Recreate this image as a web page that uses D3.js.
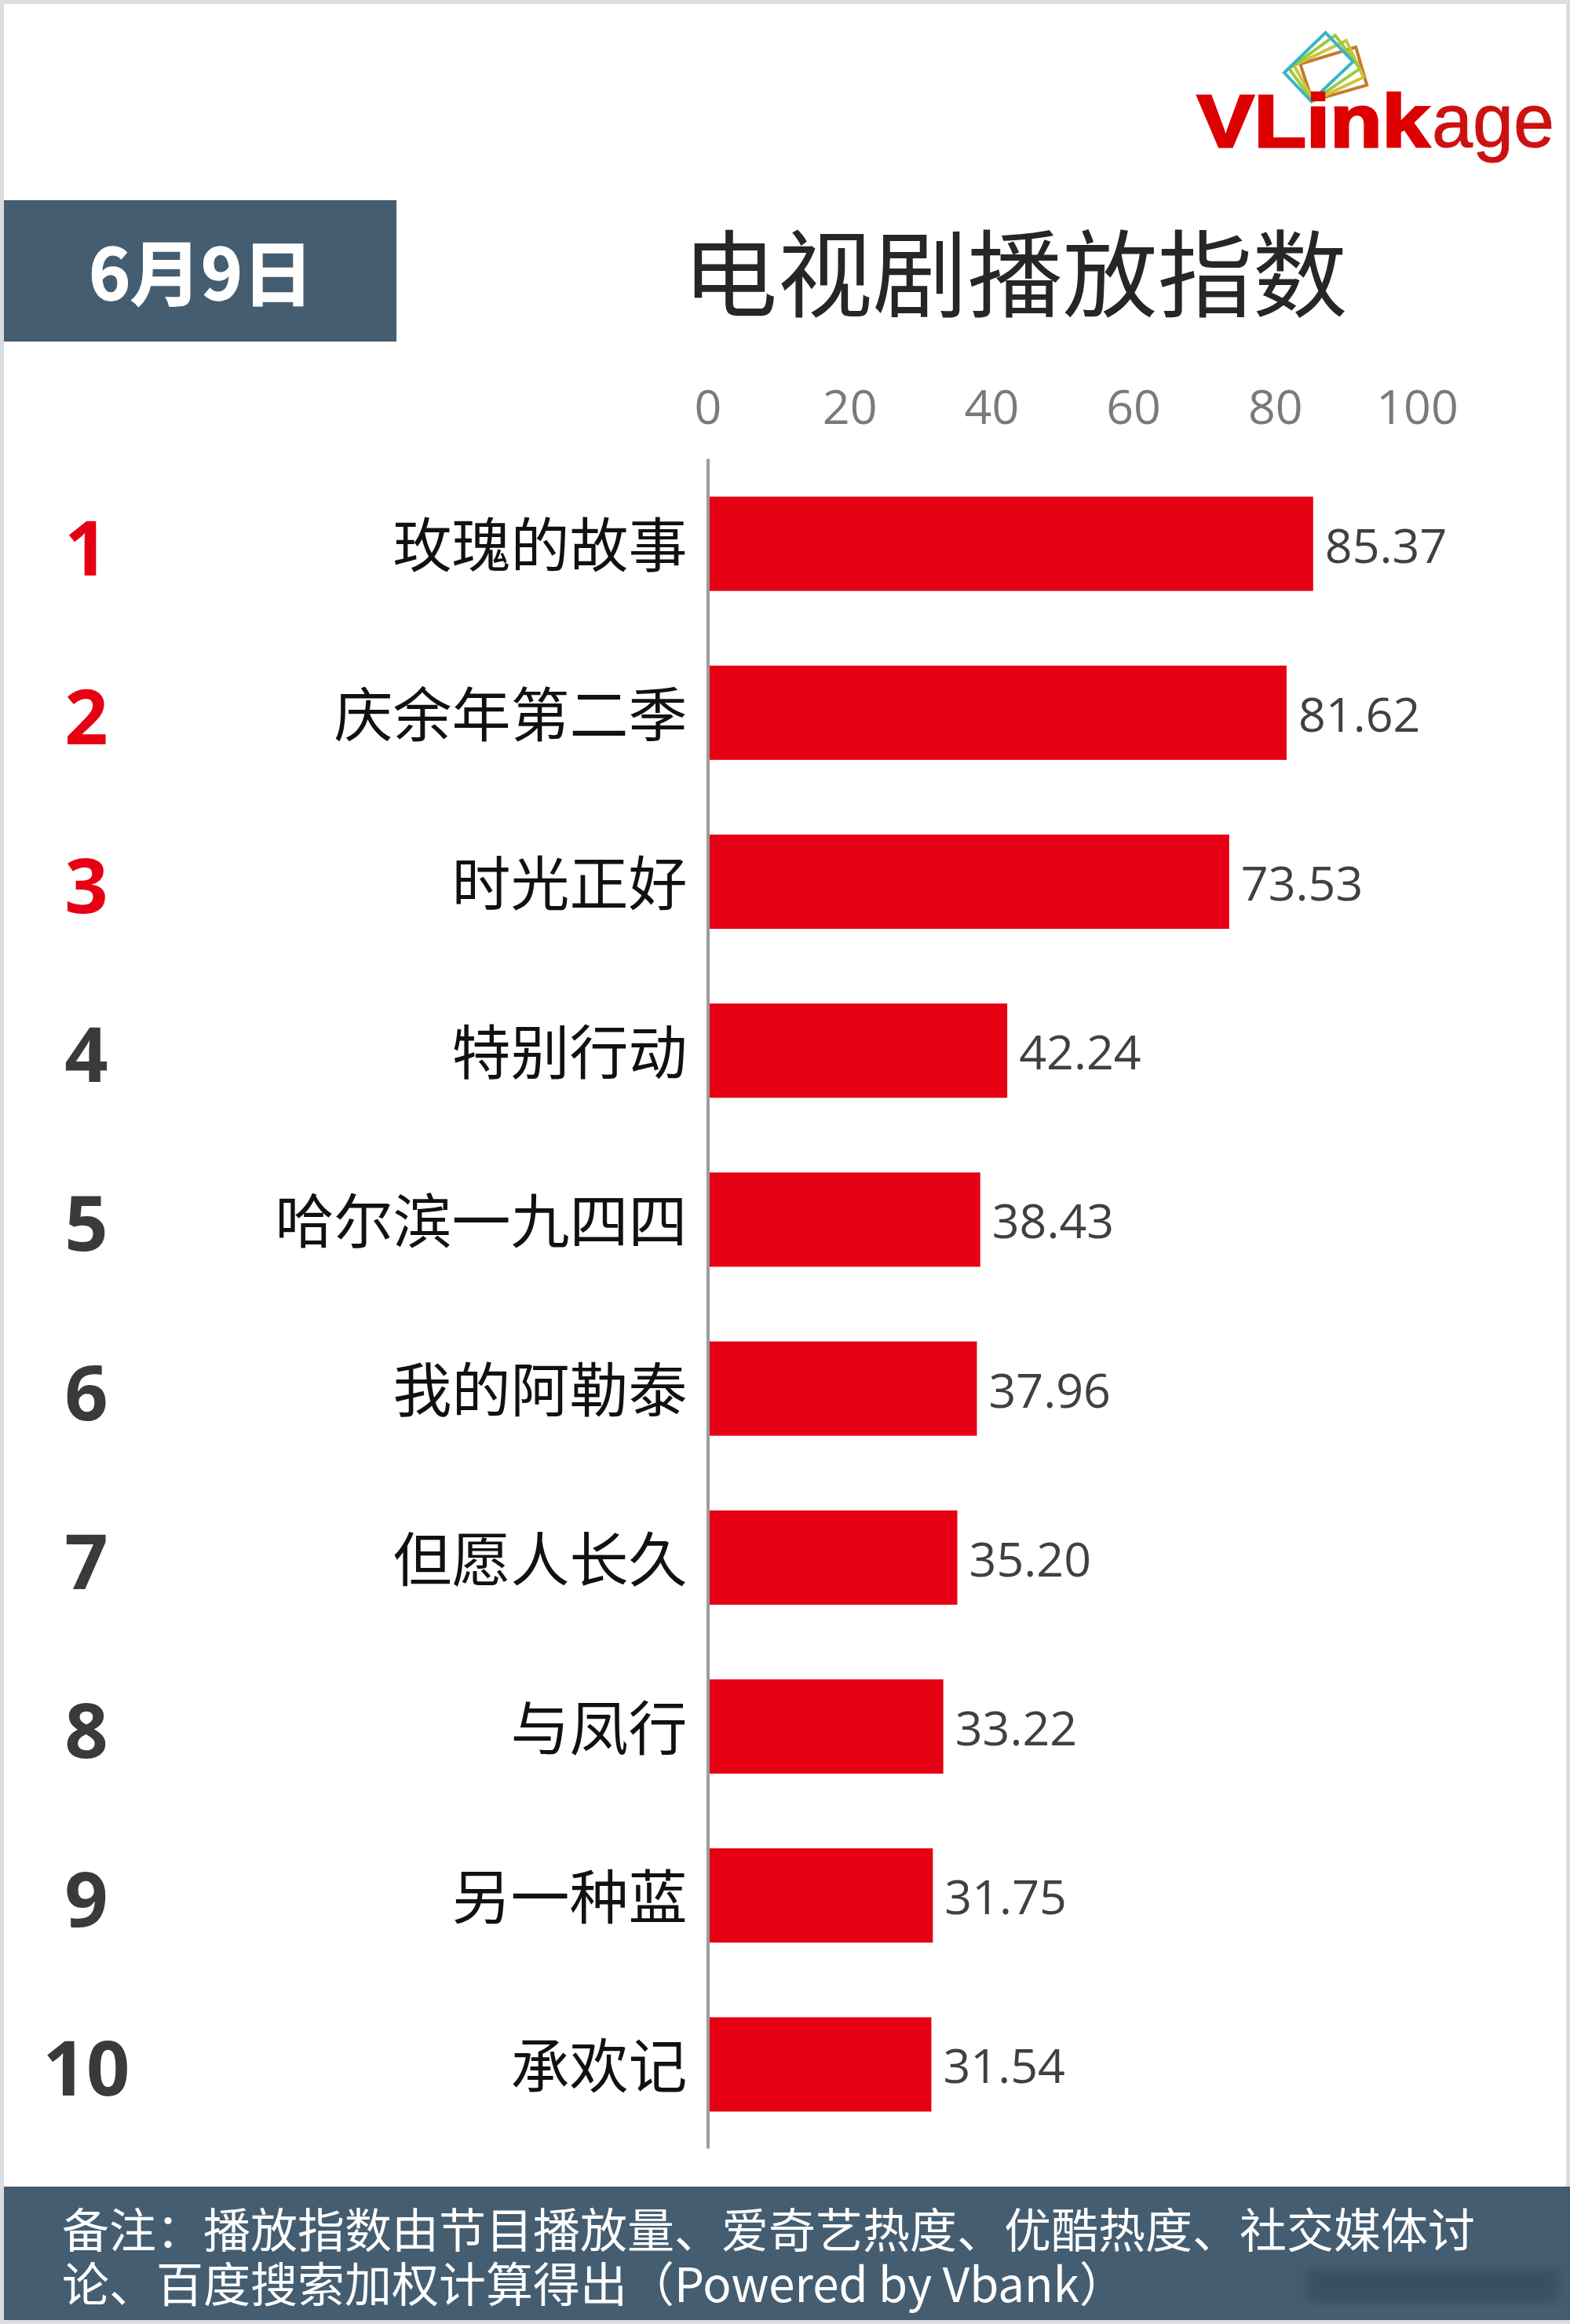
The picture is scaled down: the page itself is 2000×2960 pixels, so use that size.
<!DOCTYPE html>
<html lang="zh"><head><meta charset="utf-8">
<script src="https://cdn.jsdelivr.net/npm/d3@7"></script>
<style>
html,body{margin:0;padding:0;background:#fff}
svg{display:block}
text{font-family:"Noto Sans CJK SC","Noto Sans",sans-serif}
.num{font-family:"Open Sans","Noto Sans",sans-serif}
</style></head><body>
<svg id="c" width="2000" height="2960"></svg>
<script>
const categories = ["玫瑰的故事","庆余年第二季","时光正好","特别行动","哈尔滨一九四四","我的阿勒泰","但愿人长久","与凤行","另一种蓝","承欢记"];
const values = [85.37,81.62,73.53,42.24,38.43,37.96,35.20,33.22,31.75,31.54];
const ranks = ["1","2","3","4","5","6","7","8","9","10"];
const xTicks = [0,20,40,60,80,100];
const titleText = "电视剧播放指数";
const dateText = "6月9日";
const noteLines = ["备注\uFF1A播放指数由节目播放量、爱奇艺热度、优酷热度、社交媒体讨","论、百度搜索加权计算得出\uFF08Powered by Vbank\uFF09"];

const svg = d3.select("#c");
const NAVY = "#445d71", RED = "#e60013";

// page frame
svg.append("rect").attr("width",2000).attr("height",2960).attr("fill","#dcdde0");
svg.append("rect").attr("x",5).attr("y",5).attr("width",1990).attr("height",2950).attr("fill","#fff");

const x = d3.scaleLinear().domain([0,100]).range([901.5,1805]);
const y = d3.scaleBand().domain(categories).range([584,2736]).paddingInner(0.442).paddingOuter(0.221);

// date box and title
svg.append("rect").attr("x",5).attr("y",255).attr("width",500).attr("height",180).attr("fill",NAVY);
svg.append("text").text(dateText).attr("x",256).attr("y",350).attr("dy","0.36em")
  .attr("text-anchor","middle").attr("fill","#fff").attr("font-size",90).attr("font-weight",700)
  .attr("stroke","#fff").attr("stroke-width",1.5);
svg.append("text").text(titleText).attr("x",1293).attr("y",350).attr("dy","0.36em")
  .attr("text-anchor","middle").attr("fill","#262626").attr("font-size",121).attr("font-weight",400);

// x axis (labels only)
const xAxis = svg.append("g").attr("transform","translate(0,540)")
  .call(d3.axisTop(x).tickValues(xTicks).tickSize(0).tickPadding(0));
xAxis.select(".domain").remove();
xAxis.selectAll("text").attr("class","num").attr("font-size",61).attr("fill","#7a7a7a")
  .style("font-family",'"Open Sans"');

// bars
svg.append("g").selectAll("rect").data(categories).join("rect")
  .attr("x",x(0)).attr("y",d=>y(d)+1).attr("width",(d,i)=>x(values[i])-x(0)).attr("height",y.bandwidth()).attr("fill",RED);

// category axis
const yAxis = svg.append("g").attr("transform",`translate(${x(0)},0)`)
  .call(d3.axisLeft(y).tickSize(0).tickPadding(26));
yAxis.select(".domain").attr("stroke","#9c9c9c").attr("stroke-width",4);
yAxis.selectAll("text").attr("font-size",75).attr("fill","#111").attr("dy","0.41em")
  .style("font-family",'"Noto Sans CJK SC"');

// value labels
svg.append("g").selectAll("text").data(categories).join("text").attr("class","num")
  .text((d,i)=>values[i].toFixed(2))
  .attr("x",(d,i)=>x(values[i])+15).attr("y",d=>y(d)+y.bandwidth()/2+3).attr("dy","0.36em")
  .attr("font-size",61).attr("fill","#404040");

// rank numbers
svg.append("g").selectAll("text").data(categories).join("text").attr("class","num")
  .text((d,i)=>ranks[i])
  .attr("x",110).attr("y",d=>y(d)+y.bandwidth()/2+6).attr("dy","0.36em")
  .attr("text-anchor","middle").attr("font-size",97).attr("font-weight",700)
  .attr("fill",(d,i)=>i<3?"#e60013":"#3a3a3a");

// footer note
svg.append("rect").attr("x",5).attr("y",2785).attr("width",1995).attr("height",170).attr("fill",NAVY);
svg.append("defs").append("filter").attr("id","soft").append("feGaussianBlur").attr("stdDeviation",7);
svg.append("rect").attr("x",1665).attr("y",2890).attr("width",320).attr("height",42).attr("fill","#364a5b").attr("opacity",0.7).attr("filter","url(#soft)");
svg.append("text").attr("fill","#fff").attr("font-size",60)
  .selectAll("tspan").data(noteLines).join("tspan").text(d=>d)
  .attr("x",79).attr("y",(d,i)=>2841+i*69).attr("dy","0.36em");

// logo
const logo = svg.append("g");
const lx = v => 1450+v/2.85, ly = v => v/3;
[["#c8792f",[[790,180],[830,325],[632,385],[588,245]]],
 ["#c9c63a",[[755,155],[818,295],[636,385],[566,250]]],
 ["#9ccb3c",[[715,135],[805,262],[632,387],[548,262]]],
 ["#35b6c4",[[680,125],[780,235],[628,387],[530,278]]]].forEach(([c,pts])=>{
  logo.append("polygon").attr("points",pts.map(p=>lx(p[0])+","+ly(p[1])).join(" "))
    .attr("fill","none").attr("stroke",c).attr("stroke-width",4);
});
logo.append("text").text("VLink").attr("x",1525).attr("y",187).attr("textLength",296).attr("lengthAdjust","spacingAndGlyphs")
  .style("font-family",'"Liberation Sans"').attr("font-size",95).attr("font-weight",700).attr("fill","#dd0000")
  .attr("stroke","#dd0000").attr("stroke-width",3);
logo.append("text").text("age").attr("x",1824).attr("y",187).attr("textLength",156).attr("lengthAdjust","spacingAndGlyphs")
  .style("font-family",'"Liberation Sans"').attr("font-size",97).attr("fill","#cc1111")
  .attr("stroke","#cc1111").attr("stroke-width",1);
</script>
</body></html>
